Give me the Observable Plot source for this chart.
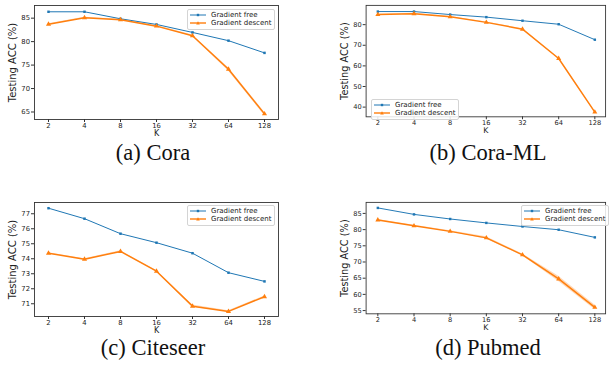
<!DOCTYPE html>
<html><head><meta charset="utf-8">
<script src="https://cdn.jsdelivr.net/npm/d3@7"></script>
<script src="https://cdn.jsdelivr.net/npm/@observablehq/plot@0.6"></script>
<style>
body{margin:0;width:610px;height:377px;overflow:hidden;background:#fff;position:relative;font-family:"DejaVu Sans",sans-serif}
.panel{position:absolute}
.cap{position:absolute;font-family:"Liberation Serif","Times New Roman",serif;font-size:22.5px;line-height:1;transform:translateX(-50%);white-space:nowrap;color:#111}
.legend{position:absolute;border:0.8px solid #d4d4d4;border-radius:2px;background:rgba(255,255,255,0.85);font-size:7px;padding:1px 3px 1px 2px;line-height:8.4px;color:#222;white-space:nowrap}
.legend svg{vertical-align:middle;margin-right:5px}
</style></head><body>
<script>
const K = ["2","4","8","16","32","64","128"];
const seriesNames = ["Gradient free","Gradient descent"];

const coraFree = [86.36, 86.36, 84.87, 83.66, 81.96, 80.2, 77.6];
const coraDesc = [83.7, 85.08, 84.66, 83.3, 81.25, 74.1, 64.6];
const coraDescSd = [0.1, 0.1, 0.1, 0.15, 0.15, 0.35, 0.35];

const coraMLFree = [86.35, 86.35, 84.9, 83.65, 81.9, 80.2, 72.7];
const coraMLDesc = [84.9, 85.3, 83.8, 81.1, 77.8, 63.6, 37.6];
const coraMLDescSd = [0.2, 0.2, 0.2, 0.2, 0.2, 0.3, 0.3];

const citeseerFree = [77.37, 76.67, 75.67, 75.07, 74.37, 73.07, 72.49];
const citeseerDesc = [74.37, 73.97, 74.49, 73.17, 70.84, 70.49, 71.47];
const citeseerDescSd = [0.03, 0.03, 0.04, 0.04, 0.08, 0.04, 0.04];

const pubmedFree = [86.7, 84.7, 83.28, 82.07, 80.96, 79.96, 77.6];
const pubmedDesc = [82.98, 81.17, 79.46, 77.45, 72.2, 64.77, 56.0];
const pubmedDescSd = [0.15, 0.15, 0.2, 0.35, 0.3, 0.8, 0.7];

const BLUE = "#1f77b4", ORANGE = "#ff7f0e";

const panels = [
  {caption:"(a) Cora", free:coraFree, desc:coraDesc, sd:coraDescSd,
   left:0, top:0, width:305, height:139, mL:34, mR:27, mT:5, mB:20,
   yDomain:[63.4, 87.7], yTicks:[65,70,75,80,85],
   legend:{left:187, top:9}, capX:153, capY:142},
  {caption:"(b) Cora-ML", free:coraMLFree, desc:coraMLDesc, sd:coraMLDescSd,
   left:305, top:0, width:312, height:139, mL:62, mR:5, mT:5, mB:20,
   yDomain:[35.3, 89.35], yTicks:[40,50,60,70,80],
   legend:{left:371, top:99}, capX:488, capY:142},
  {caption:"(c) Citeseer", free:citeseerFree, desc:citeseerDesc, sd:citeseerDescSd,
   left:0, top:197, width:305, height:139, mL:34, mR:27, mT:5, mB:20,
   yDomain:[70.15, 77.75], yTicks:[71,72,73,74,75,76,77],
   legend:{left:187, top:205}, capX:153, capY:337},
  {caption:"(d) Pubmed", free:pubmedFree, desc:pubmedDesc, sd:pubmedDescSd,
   left:305, top:197, width:312, height:139, mL:62, mR:5, mT:5, mB:20,
   yDomain:[54.0, 88.41], yTicks:[55,60,65,70,75,80,85],
   legend:{left:521, top:205}, capX:488, capY:337}
];

function legendSwatch(color, sym) {
  const ns = "http://www.w3.org/2000/svg";
  const s = document.createElementNS(ns, "svg");
  s.setAttribute("width", 16); s.setAttribute("height", 6);
  const l = document.createElementNS(ns, "line");
  l.setAttribute("x1", 0); l.setAttribute("x2", 16); l.setAttribute("y1", 3); l.setAttribute("y2", 3);
  l.setAttribute("stroke", color); l.setAttribute("stroke-width", sym === "tri" ? 1.4 : 1);
  s.appendChild(l);
  if (sym === "tri") {
    const p = document.createElementNS(ns, "path");
    p.setAttribute("d", "M8,1.2L9.8,4.4L6.2,4.4Z"); p.setAttribute("fill", color);
    s.appendChild(p);
  } else {
    const r = document.createElementNS(ns, "rect");
    r.setAttribute("x", 6.8); r.setAttribute("y", 1.8); r.setAttribute("width", 2.4); r.setAttribute("height", 2.4);
    r.setAttribute("fill", color); s.appendChild(r);
  }
  return s;
}

for (const p of panels) {
  const rows = K.map((k, i) => ({k, free: p.free[i], desc: p.desc[i], sd: p.sd[i]}));
  const chart = Plot.plot({
    width: p.width, height: p.height,
    marginLeft: p.mL, marginRight: p.mR, marginTop: p.mT, marginBottom: p.mB,
    style: {fontFamily: "DejaVu Sans", fontSize: "6.8px", color: "#222", background: "transparent", overflow: "visible"},
    x: {type: "point", domain: K, padding: 0.3},
    y: {domain: p.yDomain},
    marks: [
      Plot.axisX({tickSize: 3, tickPadding: 0.5, label: null, stroke: "#333"}),
      Plot.axisY({ticks: p.yTicks, tickSize: 3, tickPadding: 1.5, label: null, stroke: "#333"}),
      Plot.areaY(rows, {x: "k", y1: d => d.desc - d.sd, y2: d => d.desc + d.sd, fill: ORANGE, fillOpacity: 0.3}),
      Plot.line(rows, {x: "k", y: "free", stroke: BLUE, strokeWidth: 1}),
      Plot.dot(rows, {x: "k", y: "free", symbol: "square", r: 1.4, fill: BLUE}),
      Plot.line(rows, {x: "k", y: "desc", stroke: ORANGE, strokeWidth: 1.5}),
      Plot.dot(rows, {x: "k", y: "desc", symbol: "triangle", r: 1.9, fill: ORANGE}),
      Plot.frame({stroke: "#333", strokeWidth: 0.9}),
      Plot.text(["Testing ACC (%)"], {text: d => d, frameAnchor: "left", textAnchor: "middle", lineAnchor: "middle", rotate: -90, dx: -22, fontSize: 10}),
      Plot.text(["K"], {text: d => d, frameAnchor: "bottom", textAnchor: "middle", lineAnchor: "top", dy: 11, fontSize: 8})
    ]
  });
  const div = document.createElement("div");
  div.className = "panel";
  div.style.left = p.left + "px"; div.style.top = p.top + "px";
  div.appendChild(chart);
  document.body.appendChild(div);

  const lg = document.createElement("div");
  lg.className = "legend";
  lg.style.left = p.legend.left + "px"; lg.style.top = p.legend.top + "px";
  seriesNames.forEach((name, i) => {
    const row = document.createElement("div");
    row.appendChild(legendSwatch(i === 0 ? BLUE : ORANGE, i === 0 ? "sq" : "tri"));
    row.appendChild(document.createTextNode(name));
    lg.appendChild(row);
  });
  document.body.appendChild(lg);

  const cap = document.createElement("div");
  cap.className = "cap";
  cap.style.left = p.capX + "px"; cap.style.top = p.capY + "px";
  cap.textContent = p.caption;
  document.body.appendChild(cap);
}
</script>
</body></html>
